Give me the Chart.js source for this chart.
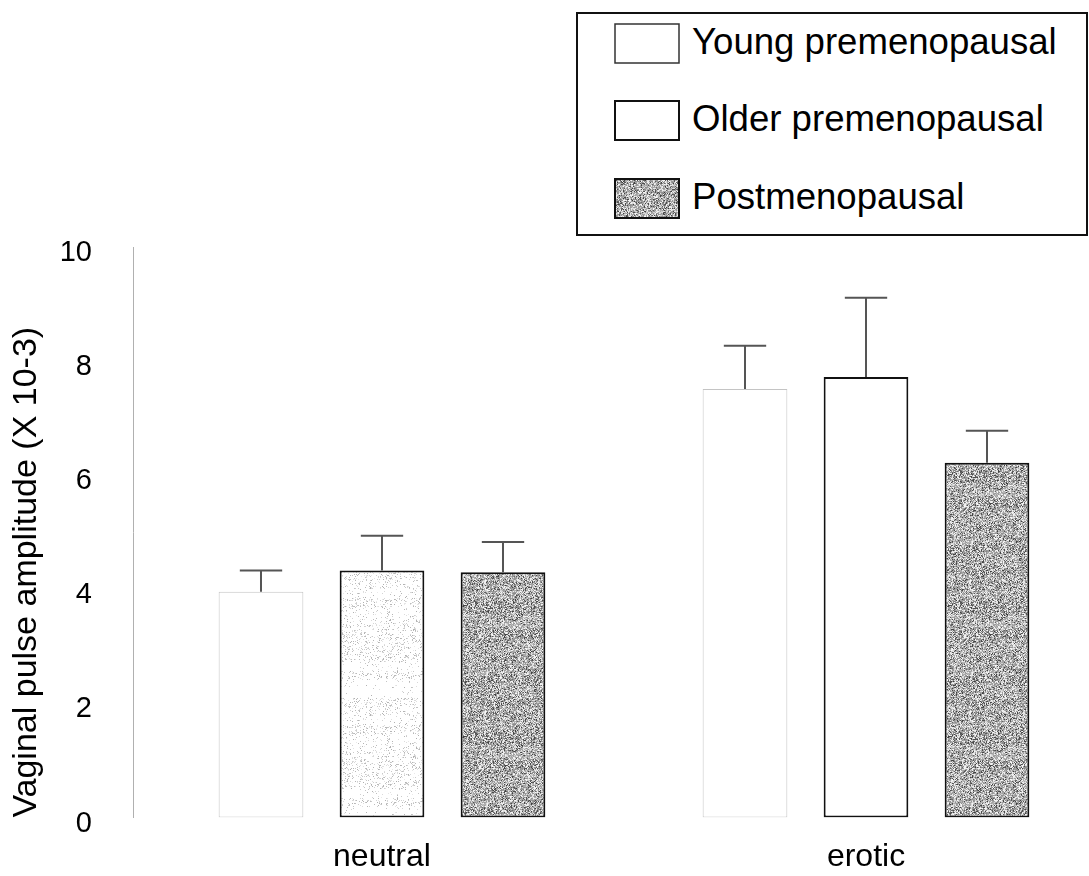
<!DOCTYPE html>
<html>
<head>
<meta charset="utf-8">
<title>Vaginal pulse amplitude</title>
<script src="https://cdn.jsdelivr.net/npm/chart.js@4.4.0/dist/chart.umd.min.js"></script>
<style>
  html, body { margin: 0; padding: 0; background: #fff; }
  #wrap { position: relative; width: 1089px; height: 876px; overflow: hidden; }
  #wrap canvas#chart { position: absolute; left: 0; top: 0; }
  #legend {
    position: absolute; left: 576px; top: 12px; width: 512px; height: 224px;
    box-sizing: border-box; border: 2px solid #111; background: #fff;
    font-family: "Liberation Sans", Arial, Helvetica, sans-serif; color: #000;
  }
  .lg-item { position: absolute; left: 36px; height: 40px; }
  .lg-item canvas { position: absolute; left: 0; top: 0; }
  .lg-item span { position: absolute; left: 78px; top: -1px; font-size: 36.6px; line-height: 40px; white-space: nowrap; }
</style>
</head>
<body>
<div id="wrap">
  <canvas id="chart"></canvas>
  <div id="legend"></div>
</div>
<script>
// Stimulus conditions and group means (x 10^-3) with their standard errors
const categories = ['neutral', 'erotic'];
const seriesNames = ['Young premenopausal', 'Older premenopausal', 'Postmenopausal'];
const youngMeans = [3.96, 7.51];
const youngErr   = [0.37, 0.76];
const olderMeans = [4.33, 7.72];
const olderErr   = [0.61, 1.39];
const postMeans  = [4.30, 6.22];
const postErr    = [0.53, 0.56];
const yTicks = [0, 2, 4, 6, 8, 10];
const yTitle = 'Vaginal pulse amplitude (X 10-3)';

const FONT = '"Liberation Sans", Arial, Helvetica, sans-serif';

// Deterministic speckle generator for the halftone-style fills
function hash(x, y, s) {
  const v = Math.sin(x * 12.9898 + y * 78.233 + s * 37.719) * 43758.5453;
  return v - Math.floor(v);
}

// Grey stipple with faint horizontal streaks
function makeGreyTexture(w, h) {
  const c = document.createElement('canvas');
  c.width = w; c.height = h;
  const g = c.getContext('2d');
  const img = g.createImageData(w, h);
  for (let y = 0; y < h; y++) {
    const band = hash(0, Math.floor(y / 3), 5) * 0.5 + hash(0, Math.floor(y / 7), 9) * 0.5;
    for (let x = 0; x < w; x++) {
      const r = hash(x, y, 1);
      let v;
      if (r < 0.10 + band * 0.10) v = 60 + hash(x, y, 2) * 50;
      else if (r < 0.62) v = 150 + hash(x, y, 3) * 40 - band * 25;
      else v = 200 + hash(x, y, 4) * 50;
      const i = (y * w + x) * 4;
      img.data[i] = img.data[i + 1] = img.data[i + 2] = Math.max(0, Math.min(255, v));
      img.data[i + 3] = 255;
    }
  }
  g.putImageData(img, 0, 0);
  return c;
}

// Mostly white fill with sparse light speckles
function makeLightTexture(w, h) {
  const c = document.createElement('canvas');
  c.width = w; c.height = h;
  const g = c.getContext('2d');
  const img = g.createImageData(w, h);
  for (let y = 0; y < h; y++) {
    const band = hash(0, Math.floor(y / 9), 11);
    for (let x = 0; x < w; x++) {
      const r = hash(x, y, 6);
      let v = 255;
      if (r < band * 0.2) v = 175 + hash(x, y, 7) * 60;
      const i = (y * w + x) * 4;
      img.data[i] = img.data[i + 1] = img.data[i + 2] = v;
      img.data[i + 3] = 255;
    }
  }
  g.putImageData(img, 0, 0);
  return c;
}

const canvas = document.getElementById('chart');
const ctx = canvas.getContext('2d');
const greyTile = makeGreyTexture(97, 131);
const lightTile = makeLightTexture(89, 127);
const greyPattern = ctx.createPattern(greyTile, 'repeat');
const lightPattern = ctx.createPattern(lightTile, 'repeat');

const toPoints = (vals) => vals.map((v, i) => ({ x: i, y: v }));
const errors = [youngErr, olderErr, postErr];

// Draws the upper standard-error whisker for every bar
const errorBars = {
  id: 'errorBars',
  afterDatasetsDraw(chart) {
    const c = chart.ctx;
    const y = chart.scales.y;
    chart.data.datasets.forEach((ds, di) => {
      const meta = chart.getDatasetMeta(di);
      meta.data.forEach((bar, j) => {
        const top = y.getPixelForValue(ds.data[j].y + errors[di][j]);
        const half = bar.width / 4;
        c.save();
        c.strokeStyle = '#555';
        c.lineWidth = 2;
        c.beginPath();
        c.moveTo(bar.x, bar.y);
        c.lineTo(bar.x, top);
        c.moveTo(bar.x - half, top);
        c.lineTo(bar.x + half, top);
        c.stroke();
        c.restore();
      });
    });
  }
};

new Chart(canvas, {
  type: 'bar',
  data: {
    datasets: [
      { label: seriesNames[0], data: toPoints(youngMeans), backgroundColor: '#fff',
        borderColor: '#c4c4c4', borderWidth: 1, borderSkipped: false },
      { label: seriesNames[1], data: toPoints(olderMeans), backgroundColor: [lightPattern, '#fff'],
        borderColor: '#111', borderWidth: 2, borderSkipped: false },
      { label: seriesNames[2], data: toPoints(postMeans), backgroundColor: greyPattern,
        borderColor: '#111', borderWidth: 2, borderSkipped: false }
    ]
  },
  options: {
    responsive: true,
    maintainAspectRatio: false,
    animation: false,
    layout: { padding: { top: 247, right: 0, left: 0, bottom: 0 } },
    datasets: { bar: { categoryPercentage: 0.75, barPercentage: 0.70 } },
    plugins: { legend: { display: false }, tooltip: { enabled: false } },
    scales: {
      x: {
        type: 'linear',
        offset: false,
        min: -0.51446,
        max: 1.46074,
        grid: { display: false, drawTicks: false },
        border: { display: false },
        afterFit(scale) { scale.height = 58; },
        ticks: {
          stepSize: 1,
          includeBounds: false,
          padding: 20,
          color: '#000',
          font: { family: FONT, size: 32 },
          callback: (v) => Number.isInteger(v) && categories[v] !== undefined ? categories[v] : ''
        }
      },
      y: {
        min: 0,
        max: 10,
        afterFit(scale) { scale.width = 133; },
        afterBuildTicks(scale) { scale.ticks = yTicks.map(v => ({ value: v })); },
        grid: { display: false, drawTicks: false },
        border: { display: true, color: '#b0b0b0', width: 1, dash: [3, 3] },
        ticks: {
          padding: 41,
          labelOffset: 6,
          color: '#000',
          font: { family: FONT, size: 29 }
        },
        title: {
          display: true,
          text: yTitle,
          align: 'start',
          color: '#000',
          font: { family: FONT, size: 34 },
          padding: { top: 6, bottom: 0 }
        }
      }
    }
  },
  plugins: [errorBars]
});

// Legend box built from the series names
const legend = document.getElementById('legend');
const swatchTops = [9, 86, 164];
seriesNames.forEach((name, i) => {
  const item = document.createElement('div');
  item.className = 'lg-item';
  item.style.top = swatchTops[i] + 'px';
  const sw = document.createElement('canvas');
  sw.width = 66; sw.height = 41;
  const g = sw.getContext('2d');
  if (i === 2) {
    g.fillStyle = g.createPattern(greyTile, 'repeat');
    g.fillRect(0, 0, 66, 41);
  } else {
    g.fillStyle = '#fff';
    g.fillRect(0, 0, 66, 41);
  }
  g.strokeStyle = i === 0 ? '#333' : '#111';
  g.lineWidth = i === 0 ? 1.5 : 2;
  g.strokeRect(1, 1, 64, 39);
  const label = document.createElement('span');
  label.textContent = name;
  item.appendChild(sw);
  item.appendChild(label);
  legend.appendChild(item);
});
</script>
</body>
</html>
